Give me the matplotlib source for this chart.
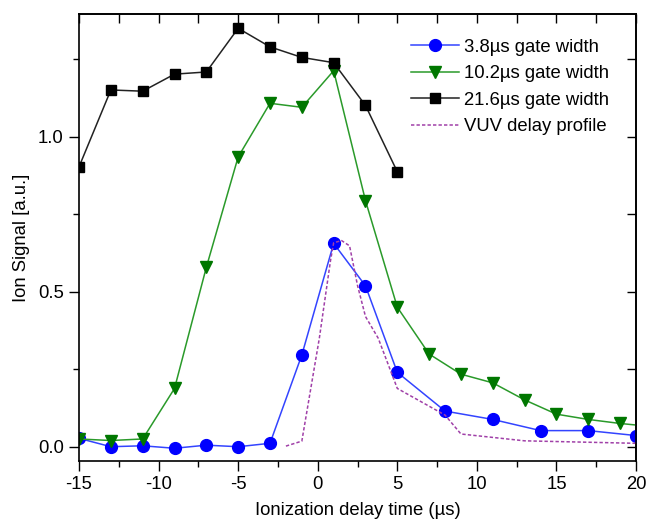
import matplotlib
matplotlib.use("Agg")
import matplotlib.pyplot as plt
from matplotlib.ticker import MultipleLocator

plt.rcParams['font.family'] = ['Liberation Sans', 'DejaVu Sans']
plt.rcParams['axes.unicode_minus'] = False

# 3.8 us gate width
x_blue = [-15, -13, -11, -9, -7, -5, -3, -1, 1, 3, 5, 8, 11, 14, 17, 20]
y_blue = [0.027, 0.0, 0.003, -0.005, 0.005, 0.0, 0.011, 0.296, 0.656, 0.519, 0.240, 0.115, 0.088, 0.052, 0.052, 0.036]

# 10.2 us gate width
x_green = [-15, -13, -11, -9, -7, -5, -3, -1, 1, 3, 5, 7, 9, 11, 13, 15, 17, 19, 21]
y_green = [0.025, 0.020, 0.025, 0.188, 0.579, 0.935, 1.108, 1.095, 1.213, 0.794, 0.450, 0.299, 0.234, 0.206,
           0.151, 0.105, 0.088, 0.075, 0.065]

# 21.6 us gate width
x_black = [-15, -13, -11, -9, -7, -5, -3, -1, 1, 3, 5]
y_black = [0.903, 1.151, 1.147, 1.202, 1.209, 1.350, 1.290, 1.256, 1.239, 1.101, 0.887]

# VUV delay profile
x_vuv = [-2, -1, 0.1, 0.8, 1.0, 1.5, 2.0, 2.5, 3.0, 3.8, 5.0, 8.0, 9.0, 13.0, 20.0]
y_vuv = [0.002, 0.018, 0.35, 0.60, 0.658, 0.665, 0.648, 0.52, 0.42, 0.35, 0.188, 0.102, 0.041, 0.019, 0.011]

labels = ["3.8\u00b5s gate width", "10.2\u00b5s gate width", "21.6\u00b5s gate width", "VUV delay profile"]

FS = 13.3

fig = plt.figure(figsize=(6.51, 5.19), dpi=100)
ax = fig.add_axes([0.1214, 0.1118, 0.8556, 0.8612])

ax.plot(x_blue, y_blue, color='#3344ff', lw=1.1, marker='o', ms=8.5,
        mfc='#0000ff', mec='#0000ff', label=labels[0])
ax.plot(x_green, y_green, color='#2a9a2a', lw=1.1, marker='v', ms=8.5,
        mfc='#007700', mec='#007700', label=labels[1])
ax.plot(x_black, y_black, color='#222222', lw=1.1, marker='s', ms=7,
        mfc='black', mec='black', label=labels[2])
ax.plot(x_vuv, y_vuv, color='#a040a8', lw=1.1, ls=(0, (2.2, 1.4)), label=labels[3])

ax.set_xlim(-15, 20)
ax.set_ylim(-0.046, 1.396)

ax.xaxis.set_major_locator(MultipleLocator(5))
ax.xaxis.set_minor_locator(MultipleLocator(2.5))
ax.yaxis.set_major_locator(MultipleLocator(0.5))
ax.yaxis.set_minor_locator(MultipleLocator(0.25))
ax.yaxis.set_major_formatter(matplotlib.ticker.FormatStrFormatter('%.1f'))

ax.tick_params(which='major', direction='out', length=7, width=1, labelsize=FS, pad=4)
ax.tick_params(which='minor', direction='out', length=4, width=1)

secx = ax.secondary_xaxis('top')
secx.xaxis.set_major_locator(MultipleLocator(2.5))
secx.tick_params(direction='in', length=6.5, width=1, labeltop=False)
secy = ax.secondary_yaxis('right')
secy.yaxis.set_major_locator(MultipleLocator(0.25))
secy.tick_params(direction='in', length=6.5, width=1, labelright=False)

for s in ax.spines.values():
    s.set_linewidth(1.2)
secx.spines['top'].set_linewidth(1.2)
secy.spines['right'].set_linewidth(1.2)

ax.set_xlabel("Ionization delay time (\u00b5s)", fontsize=FS, labelpad=6)
ax.set_ylabel("Ion Signal [a.u.]", fontsize=FS, labelpad=6)

leg = ax.legend(loc='upper right', bbox_to_anchor=(0.975, 0.974), frameon=False, fontsize=FS,
                handlelength=2.6, handletextpad=0.3, labelspacing=0.52, borderaxespad=0.3)

fig.savefig("out.png", dpi=100)
